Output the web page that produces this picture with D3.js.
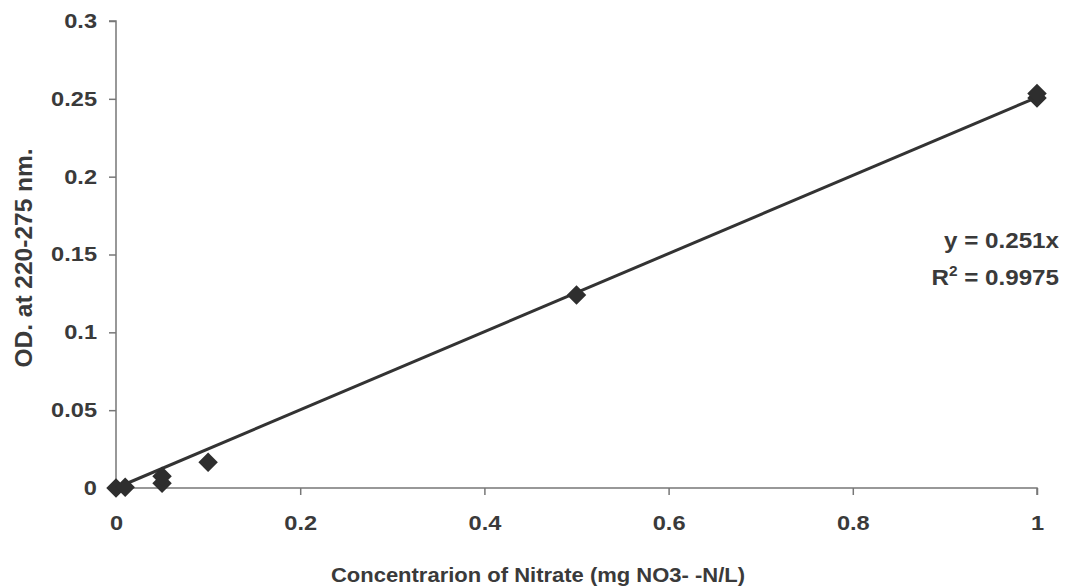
<!DOCTYPE html>
<html>
<head>
<meta charset="utf-8">
<script src="https://cdn.jsdelivr.net/npm/d3@7"></script>
<style>
  body { margin: 0; background: #fff; }
  text { font-family: "Liberation Sans", Arial, sans-serif; font-weight: bold; fill: #3a3a3a; }
</style>
</head>
<body>
<svg id="chart" width="1079" height="587"></svg>
<script>
// measured points (concentration, OD)
var concValues = [0, 0.01, 0.05, 0.05, 0.1, 0.5, 1, 1];
var odValues = [0, 0.0005, 0.003, 0.0075, 0.0165, 0.124, 0.2505, 0.2535];
var xTicks = [0, 0.2, 0.4, 0.6, 0.8, 1];
var yTicks = [0, 0.05, 0.1, 0.15, 0.2, 0.25, 0.3];
var slope = 0.251;
var trendRange = [0, 1];

var svg = d3.select("#chart");

var xScale = d3.scaleLinear().domain([0, 1]).range([116, 1037]);
var yScale = d3.scaleLinear().domain([0, 0.3]).range([488, 21]);

// text in the scan is a bit wider than Arial, so stretch it sideways
var stretch = 1.18;

// axes
var xAxis = svg.append("g")
    .attr("transform", "translate(0," + yScale(0) + ")")
    .call(d3.axisBottom(xScale).tickValues(xTicks).tickSize(7).tickPadding(21)
        .tickFormat(function (d) { return d3.format("")(d); }));

var yAxis = svg.append("g")
    .attr("transform", "translate(" + xScale(0) + ",0)")
    .call(d3.axisLeft(yScale).tickValues(yTicks).tickSize(7).tickPadding(12)
        .tickFormat(function (d) { return d3.format("")(d); }));

[xAxis, yAxis].forEach(function (g) {
    g.select(".domain").attr("stroke", "#777").attr("stroke-width", 1.5);
    g.selectAll(".tick line").attr("stroke", "#777").attr("stroke-width", 1.5);
    g.selectAll(".tick text")
        .attr("font-family", "Liberation Sans, Arial, sans-serif")
        .attr("font-weight", "bold")
        .attr("font-size", 20)
        .attr("fill", "#3a3a3a");
});
xAxis.selectAll(".tick text").attr("transform", "scale(" + stretch + ",1)");
yAxis.selectAll(".tick text")
    .attr("x", 0)
    .attr("transform", "translate(-19,0) scale(" + stretch + ",1)");
xAxis.select(".domain").attr("d", "M" + xScale(0) + ",0H" + xScale(1) + "V7");
yAxis.select(".domain").attr("d", "M-7," + yScale(0.3) + "H0V" + yScale(0));

// trendline
svg.append("path")
    .datum(trendRange)
    .attr("fill", "none")
    .attr("stroke", "#333")
    .attr("stroke-width", 3)
    .attr("d", d3.line()
        .x(function (d) { return xScale(d); })
        .y(function (d) { return yScale(slope * d); }));

// data markers (diamonds)
var points = concValues.map(function (c, i) { return [c, odValues[i]]; });
svg.append("g").selectAll("path")
    .data(points)
    .enter().append("path")
    .attr("d", d3.symbol().type(d3.symbolSquare).size(190))
    .attr("transform", function (d) {
        return "translate(" + xScale(d[0]) + "," + yScale(d[1]) + ") rotate(45)";
    })
    .attr("fill", "#2e2e2e");

// equation
svg.append("text")
    .attr("transform", "translate(1059,248) scale(1.1,1)")
    .attr("text-anchor", "end")
    .attr("font-size", 22)
    .text("y = 0.251x");

var r2 = svg.append("text")
    .attr("transform", "translate(1059,285) scale(1.1,1)")
    .attr("text-anchor", "end")
    .attr("font-size", 22);
r2.append("tspan").text("R");
r2.append("tspan").attr("dy", -9).attr("font-size", 14).text("2");
r2.append("tspan").attr("dy", 9).text(" = 0.9975");

// axis titles
svg.append("text")
    .attr("transform", "translate(538,582) scale(1.1,1)")
    .attr("text-anchor", "middle")
    .attr("font-size", 20)
    .text("Concentrarion of Nitrate (mg NO3- -N/L)");

svg.append("text")
    .attr("transform", "translate(32,258) rotate(-90)")
    .attr("text-anchor", "middle")
    .attr("font-size", 24.5)
    .text("OD. at 220-275 nm.");
</script>
</body>
</html>
